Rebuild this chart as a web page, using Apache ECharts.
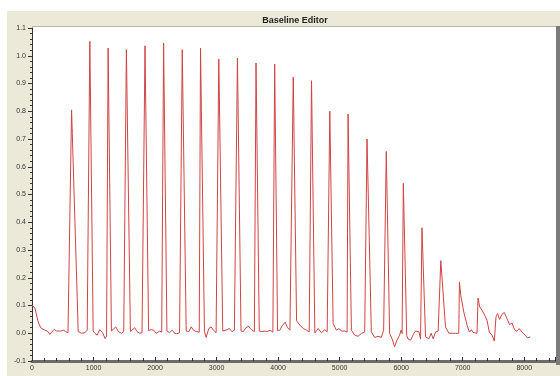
<!DOCTYPE html>
<html>
<head>
<meta charset="utf-8">
<script src="https://cdn.jsdelivr.net/npm/echarts@6/dist/echarts.min.js"></script>
<style>
  html, body { margin: 0; padding: 0; background: #fff; }
  #chart { width: 560px; height: 376px; }
</style>
</head>
<body>
<div id="chart"></div>
<script>
// x values (run time) and detector response
const sampleX = [
  0, 20, 45, 70, 95, 120, 150, 180, 220, 260, 290, 320, 360, 400, 430, 470, 510, 550, 585, 610,
  643, 655, 751, 805, 859, 897, 918,
  940, 994, 1021, 1059, 1102, 1145, 1188, 1212,
  1237, 1291, 1318, 1361, 1404, 1453, 1491, 1514,
  1534, 1599, 1631, 1669, 1707, 1750, 1788, 1811,
  1837, 1895, 1939, 1976, 2020, 2074, 2108,
  2139, 2193, 2236, 2279, 2317, 2355, 2398, 2422,
  2442, 2506, 2549, 2587, 2625, 2668, 2718,
  2739, 2803, 2830, 2873, 2911, 2949, 2992, 3016,
  3036, 3100, 3127, 3170, 3208, 3251, 3289, 3316,
  3339, 3397, 3435, 3478, 3521, 3564, 3614,
  3641, 3694, 3737, 3775, 3818, 3867, 3915,
  3944, 3991, 4029, 4072, 4115, 4153, 4192, 4222,
  4246, 4300, 4354, 4408, 4462, 4505, 4525,
  4543, 4597, 4651, 4705, 4759, 4797, 4822,
  4840, 4894, 4948, 4991, 5029, 5083, 5121,
  5137, 5191, 5245, 5299, 5353, 5407, 5430,
  5445, 5515, 5569, 5623, 5677, 5715, 5740,
  5758, 5812, 5850, 5893, 5931, 5974, 5998, 6015,
  6035, 6090, 6110, 6153, 6207, 6234, 6261, 6288, 6315,
  6338, 6396, 6450, 6488, 6520, 6558, 6601, 6625,
  6644, 6720, 6774, 6828, 6882, 6914, 6936,
  6947, 6968, 7017, 7071, 7109, 7141, 7168, 7195, 7233,
  7249, 7276, 7314, 7357, 7395, 7433, 7476, 7514,
  7541, 7568, 7600, 7638, 7676, 7719, 7762, 7800, 7843, 7881, 7919, 7962, 7989, 8016, 8054, 8097
];
const sampleY = [
  0.100, 0.100, 0.092, 0.070, 0.045, 0.030, 0.018, 0.013, 0.010, 0.006, -0.004, 0.004, 0.014, 0.008, 0.013, 0.008, 0.011, 0.006, 0.002, 0.005,
  0.805, 0.720, 0.006, 0.000, 0.002, 0.011, 0.004,
  1.052, 0.008, 0.000, -0.007, 0.013, 0.003, -0.019, -0.010,
  1.028, 0.008, 0.011, 0.023, 0.006, 0.000, 0.006, 0.002,
  1.022, 0.006, 0.006, 0.020, 0.006, 0.000, 0.002, 0.003,
  1.036, 0.010, 0.013, 0.011, 0.000, 0.008, 0.004,
  1.046, 0.008, 0.002, 0.011, 0.000, -0.002, 0.002, 0.000,
  1.022, 0.008, 0.006, 0.023, 0.011, 0.006, 0.004,
  1.028, 0.006, -0.015, 0.017, 0.023, 0.011, 0.002, 0.000,
  0.988, 0.008, 0.002, 0.013, 0.017, 0.006, 0.011, 0.004,
  0.992, 0.008, 0.006, 0.020, 0.025, 0.013, 0.006,
  0.974, 0.008, 0.006, 0.008, 0.006, 0.011, 0.004,
  0.970, 0.010, 0.011, 0.029, 0.040, 0.020, 0.011, 0.006,
  0.923, 0.045, 0.029, 0.017, 0.011, 0.005, 0.003,
  0.910, 0.001, 0.017, 0.002, 0.013, 0.005, 0.004,
  0.800, 0.035, 0.011, 0.017, 0.008, 0.008, 0.004,
  0.790, 0.011, -0.007, -0.011, -0.001, 0.005, 0.002,
  0.700, 0.005, -0.015, -0.011, -0.015, 0.011, 0.006,
  0.655, 0.000, -0.019, -0.049, -0.025, -0.007, 0.011, -0.001,
  0.540, -0.008, -0.020, -0.025, 0.000, 0.008, 0.003, 0.005, -0.020,
  0.380, -0.013, -0.020, 0.000, -0.020, 0.004, 0.008, 0.005,
  0.262, 0.023, 0.000, 0.000, 0.000, 0.002, 0.000,
  0.185, 0.137, 0.077, 0.029, 0.004, 0.013, 0.003, -0.001, 0.000,
  0.127, 0.095, 0.083, 0.065, 0.047, 0.004, -0.007, -0.028,
  0.059, 0.071, 0.050, 0.068, 0.075, 0.053, 0.031, 0.037, 0.013, 0.007, 0.017, 0.004, 0.010, -0.007, -0.017, -0.013
];

const chart = echarts.init(document.getElementById('chart'))

chart.setOption({
  animation: false,
  backgroundColor: '#fff',
  title: {
    text: 'Baseline Editor',
    left: 290,
    top: 11,
    textAlign: 'center',
    textStyle: { fontFamily: 'Liberation Sans', fontSize: 9, fontWeight: 'bold', color: '#222' }
  },
  graphic: [
    // beige panel
    { type: 'rect', z: -10, shape: { x: 7, y: 11, width: 553, height: 365 }, style: { fill: '#ECE9D8' } },
    // white plot face
    { type: 'rect', z: -9, shape: { x: 32, y: 26, width: 524, height: 336 }, style: { fill: '#fff' } },
    // top edge
    { type: 'line', z: -8, shape: { x1: 32, y1: 26.5, x2: 556, y2: 26.5 }, style: { stroke: '#b8b8b0', lineWidth: 1 } },
    // right edge
    { type: 'rect', z: -8, shape: { x: 556, y: 26, width: 4, height: 339 }, style: { fill: '#7c7c7c' } }
  ],
  grid: { left: 32, right: 5, top: 28, bottom: 15 },
  xAxis: {
    type: 'value',
    min: 0,
    max: 8500,
    interval: 1000,
    axisLine: { onZero: false, lineStyle: { color: '#6a6a6a', width: 3 } },
    axisTick: { inside: true, length: 4, lineStyle: { color: '#333' } },
    minorTick: { show: true, splitNumber: 5, length: 3, lineStyle: { color: '#333' } },
    splitLine: { show: false },
    axisLabel: {
      showMaxLabel: false, margin: 4, fontSize: 7, fontFamily: 'Liberation Sans', color: '#333',
      formatter: v => String(v)
    }
  },
  yAxis: {
    type: 'value',
    min: -0.1,
    max: 1.1,
    interval: 0.1,
    axisLine: { show: true, onZero: false, lineStyle: { color: '#333', width: 1 } },
    axisTick: { show: true, length: 4, lineStyle: { color: '#333' } },
    minorTick: { show: true, splitNumber: 5, length: 2, lineStyle: { color: '#333' } },
    splitLine: { show: false },
    axisLabel: {
      margin: 6, fontSize: 7, fontFamily: 'Liberation Sans', color: '#333',
      formatter: v => v.toFixed(1)
    }
  },
  series: [{
    type: 'line',
    showSymbol: false,
    data: sampleX.map((x, i) => [x, sampleY[i]]),
    lineStyle: { color: '#d04444', width: 1 },
    itemStyle: { color: '#d04444' }
  }]
})
</script>
</body>
</html>
